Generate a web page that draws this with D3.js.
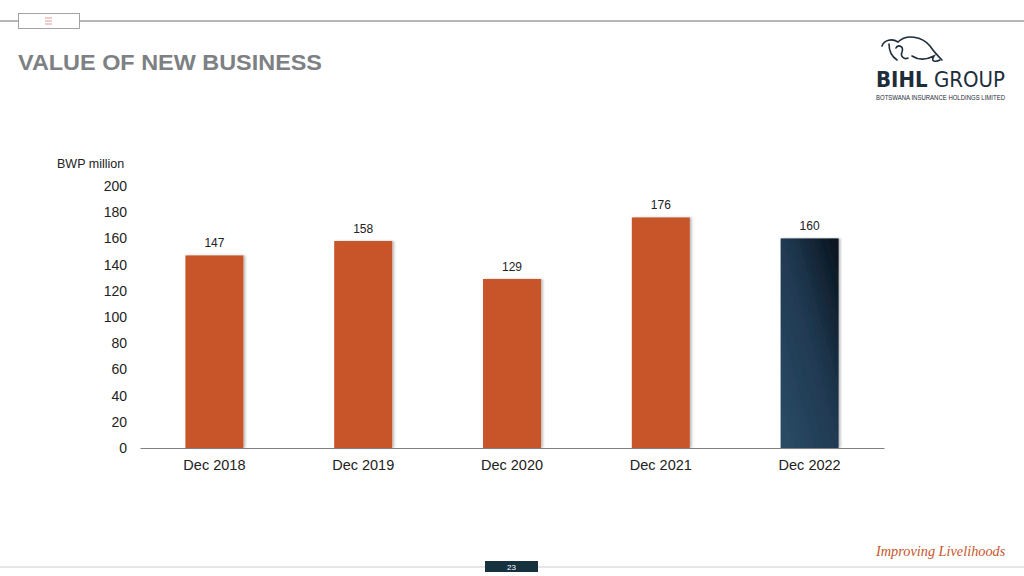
<!DOCTYPE html>
<html><head><meta charset="utf-8">
<script src="https://cdn.jsdelivr.net/npm/d3@7"></script>
<style>body{margin:0;background:#fff}svg{display:block}</style>
</head><body>
<svg id="c" width="1024" height="576"></svg>
<script>
const categories = ["Dec 2018","Dec 2019","Dec 2020","Dec 2021","Dec 2022"];
const values = [147,158,129,176,160];
const yTicks = [0,20,40,60,80,100,120,140,160,180,200];

const svg = d3.select("#c");
const font = "Liberation Sans, Arial, sans-serif";

const defs = svg.append("defs");
const g = defs.append("linearGradient").attr("id","navy").attr("x1","0").attr("y1","1").attr("x2","1").attr("y2","0");
g.append("stop").attr("offset","0").attr("stop-color","#2b4c66");
g.append("stop").attr("offset","0.55").attr("stop-color","#1f3850");
g.append("stop").attr("offset","1").attr("stop-color","#07121b");
const f = defs.append("filter").attr("id","sh").attr("x","-20%").attr("y","-5%").attr("width","140%").attr("height","110%");
f.append("feDropShadow").attr("dx",2).attr("dy",0).attr("stdDeviation",1.2).attr("flood-color","#000").attr("flood-opacity",0.25);

// header
svg.append("line").attr("x1",0).attr("x2",1024).attr("y1",21).attr("y2",21).attr("stroke","#6b6e70").attr("stroke-width",1.2);
svg.append("rect").attr("x",18.5).attr("y",13.5).attr("width",61).attr("height",15).attr("fill","#fff").attr("stroke","#8a8d8f").attr("stroke-width",0.8);
[18,21,24].forEach(y=>svg.append("line").attr("x1",45).attr("x2",52).attr("y1",y).attr("y2",y).attr("stroke","#d07070").attr("stroke-width",0.7));
svg.append("text").attr("x",18).attr("y",70).attr("font-family",font).attr("font-weight","bold").attr("font-size",22).attr("fill","#7d8184")
  .attr("textLength",304).attr("lengthAdjust","spacingAndGlyphs").text("VALUE OF NEW BUSINESS");

// logo
const lg = svg.append("g").attr("fill","none").attr("stroke","#1d2d3a").attr("stroke-width",1.6).attr("stroke-linecap","round");
lg.append("path").attr("d","M882,46 C884,40 892,38 898,42 C906,34 922,36 930,46 C934,52 938,56 942,60");
lg.append("path").attr("d","M889,44 C889,50 891,56 897,60 M896,48 C898,44 904,46 902,52 C900,56 904,60 908,58");
lg.append("path").attr("d","M912,56 C918,60 926,60 934,56 C930,62 936,62 940,60");
svg.append("text").attr("x",876).attr("y",87).attr("font-family","DejaVu Sans, sans-serif").attr("font-size",21).attr("fill","#1d2d3a").attr("textLength",129).attr("lengthAdjust","spacingAndGlyphs")
  .html('<tspan font-weight="bold">BIHL</tspan> GROUP');
svg.append("text").attr("x",876).attr("y",100).attr("font-family",font).attr("font-size",6.5).attr("fill","#1d2d3a").attr("textLength",129).attr("lengthAdjust","spacingAndGlyphs").text("BOTSWANA INSURANCE HOLDINGS LIMITED");

// chart
const x = d3.scaleBand().domain(categories).range([140,884]).paddingInner(0.61).paddingOuter(0.305);
const y = d3.scaleLinear().domain([0,200]).range([448,186]);

svg.append("text").attr("x",57).attr("y",168).attr("font-family",font).attr("font-size",12.5).attr("fill","#222").text("BWP million");

const yAxis = svg.append("g").attr("transform","translate(127,0)")
  .call(d3.axisLeft(y).tickValues(yTicks).tickSize(0).tickPadding(0));
yAxis.select(".domain").remove();
yAxis.selectAll("text").attr("font-family",font).attr("font-size",14).attr("fill","#222");

svg.selectAll("rect.bar").data(values).join("rect").attr("class","bar")
  .attr("x",(d,i)=>x(categories[i])).attr("width",x.bandwidth())
  .attr("y",d=>y(d)).attr("height",d=>y(0)-y(d))
  .attr("fill",(d,i)=>i===4?"url(#navy)":"#c8552a").attr("filter","url(#sh)");

svg.selectAll("text.val").data(values).join("text").attr("class","val")
  .attr("x",(d,i)=>x(categories[i])+x.bandwidth()/2).attr("y",d=>y(d)-8)
  .attr("text-anchor","middle").attr("font-family",font).attr("font-size",12).attr("fill","#222").text(d=>d);

const xAxis = svg.append("g").attr("transform","translate(0,448)").call(d3.axisBottom(x).tickSize(0).tickPadding(12));
xAxis.select(".domain").attr("stroke","#808080").attr("stroke-width",1.2);
xAxis.selectAll("text").attr("font-family",font).attr("font-size",14.5).attr("fill","#222");

// footer
svg.append("text").attr("x",876).attr("y",556).attr("font-family","Liberation Serif, serif").attr("font-style","italic").attr("font-size",14.3).attr("fill","#c8552a").text("Improving Livelihoods");
svg.append("line").attr("x1",0).attr("x2",1024).attr("y1",567).attr("y2",567).attr("stroke","#c9cbcd").attr("stroke-width",1.2);
svg.append("rect").attr("x",485).attr("y",561).attr("width",53).attr("height",11).attr("fill","#16323f");
svg.append("text").attr("x",511.5).attr("y",570).attr("text-anchor","middle").attr("font-family",font).attr("font-size",8).attr("fill","#fff").text("23");
</script>
</body></html>
